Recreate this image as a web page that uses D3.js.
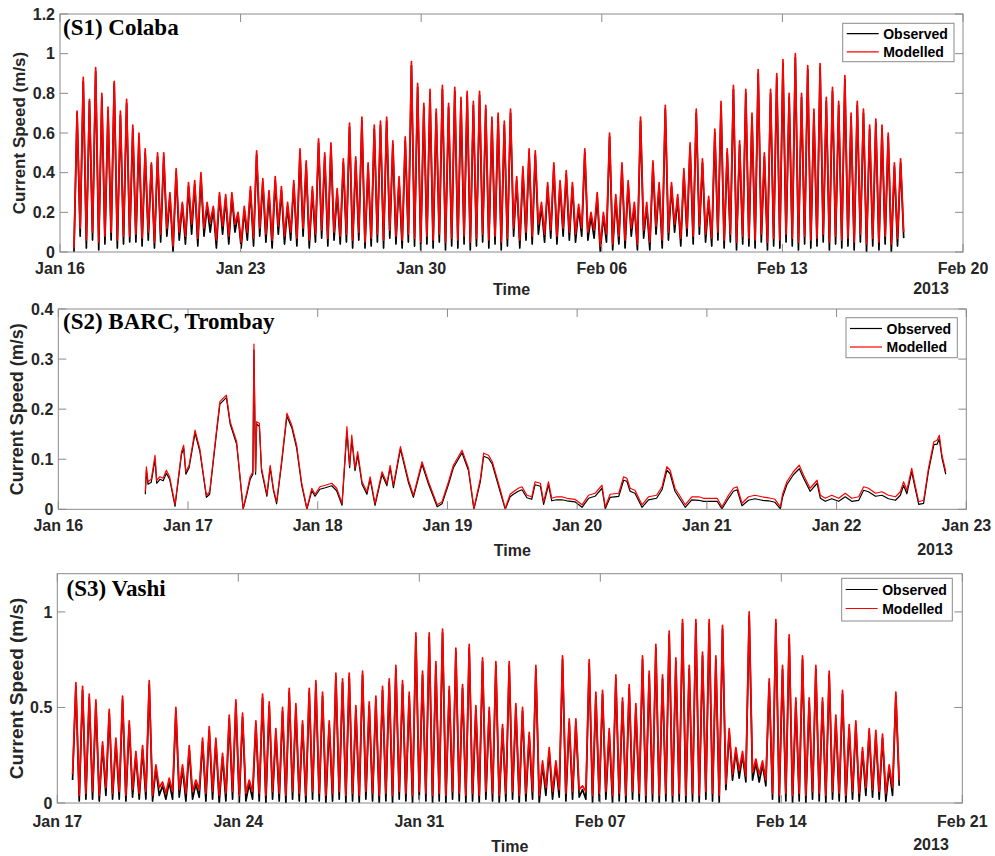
<!DOCTYPE html>
<meta charset="UTF-8">
<style>
body { margin: 0; background: #fff; }
text { font-family: "Liberation Sans", Arial, sans-serif; font-weight: bold; fill: #262626; }
.ptitle { font-family: "Liberation Serif", "Times New Roman", serif; fill: #000; font-size: 23px; }
.frame { fill: none; stroke: #8a8a8a; stroke-width: 1; }
.tick { stroke: #8a8a8a; stroke-width: 1; }
.obs { fill: none; stroke: #000; stroke-width: 1.7; stroke-linejoin: round; }
.mod { fill: none; stroke: #ff0000; stroke-width: 1.7; stroke-linejoin: round; }
.thin .obs, .thin .mod { stroke-width: 1.2; }
.legline { stroke-width: 1.2; }
</style>
<body>
<script src="https://d3js.org/d3.v7.min.js"></script>
<script>

// ---------------- data (m/s) ----------------

// S1 Colaba: successive tidal peaks and the troughs between them
var s1ModPeaks = [
  .71,.88,.77,.93,.80,.73,.86,.71,.77,.64,
  .60,.52,.45,.50,.50,.30,.42,.25,.35,.36,
  .40,.25,.23,.30,.29,.30,.20,.23,.33,.51,
  .37,.31,.38,.33,.25,.36,.52,.46,.33,.57,
  .50,.55,.32,.47,.65,.48,.68,.45,.64,.66,
  .68,.56,.38,.58,.96,.85,.75,.82,.72,.84,
  .75,.83,.78,.81,.76,.81,.74,.68,.70,.66,
  .72,.38,.43,.52,.51,.25,.35,.45,.36,.41,
  .35,.24,.52,.20,.30,.20,.60,.29,.45,.36,
  .25,.68,.25,.46,.35,.74,.35,.29,.42,.55,
  .72,.47,.28,.62,.76,.52,.84,.56,.82,.70,
  .92,.50,.82,.90,.97,.80,1.00,.80,.94,.72,
  .95,.78,.83,.76,.89,.70,.76,.72,.64,.67,
  .64,.60,.45,.47];
var s1ModTroughs = [
  .02,.12,.06,.10,.05,.08,.10,.06,.08,.08,
  .09,.07,.10,.05,.09,.12,.03,.10,.08,.14,
  .07,.12,.15,.06,.13,.08,.14,.05,.10,.07,
  .12,.09,.06,.13,.08,.10,.07,.12,.06,.09,
  .11,.07,.10,.08,.09,.06,.10,.05,.07,.09,
  .06,.11,.08,.06,.09,.07,.05,.08,.06,.09,
  .05,.07,.06,.08,.05,.07,.09,.06,.08,.05,
  .07,.12,.06,.10,.08,.14,.09,.11,.08,.12,
  .10,.09,.12,.10,.11,.03,.09,.04,.08,.06,
  .12,.04,.11,.05,.13,.06,.10,.14,.07,.12,
  .08,.13,.09,.07,.10,.06,.09,.05,.08,.07,
  .06,.09,.05,.07,.06,.09,.07,.05,.08,.06,
  .07,.09,.05,.08,.06,.07,.05,.09,.04,.07,
  .05,.08,.04,.07,.10];
var s1ObsPeaks = [
  .70,.86,.76,.91,.78,.71,.85,.69,.75,.62,
  .58,.50,.44,.48,.48,.28,.40,.24,.33,.34,
  .38,.23,.22,.28,.27,.28,.19,.21,.31,.49,
  .35,.29,.36,.31,.23,.34,.50,.44,.31,.55,
  .48,.53,.30,.45,.63,.46,.66,.43,.62,.64,
  .66,.54,.36,.56,.94,.83,.73,.80,.70,.82,
  .73,.81,.76,.79,.74,.79,.72,.66,.68,.64,
  .70,.36,.41,.50,.49,.23,.33,.43,.34,.39,
  .33,.22,.50,.18,.28,.18,.58,.27,.43,.34,
  .23,.66,.23,.44,.33,.72,.33,.27,.40,.53,
  .70,.45,.26,.60,.74,.50,.82,.54,.80,.68,
  .90,.48,.80,.88,.95,.78,.98,.78,.92,.70,
  .93,.76,.81,.74,.87,.68,.74,.70,.62,.65,
  .62,.58,.43,.45];
var s1ObsTroughs = [
  .00,.08,.02,.06,.01,.04,.06,.02,.04,.05,
  .05,.03,.06,.02,.05,.08,.00,.06,.04,.09,
  .03,.08,.10,.02,.09,.04,.10,.02,.06,.03,
  .08,.05,.02,.09,.04,.06,.03,.08,.02,.05,
  .07,.03,.06,.04,.05,.02,.06,.02,.03,.05,
  .02,.07,.04,.02,.05,.03,.01,.04,.02,.05,
  .01,.03,.02,.04,.01,.03,.05,.02,.04,.01,
  .03,.08,.02,.06,.04,.09,.05,.07,.04,.08,
  .06,.05,.08,.06,.07,.00,.05,.01,.04,.02,
  .08,.01,.07,.01,.09,.02,.06,.10,.03,.08,
  .04,.09,.05,.03,.06,.02,.05,.01,.04,.03,
  .02,.05,.01,.03,.02,.05,.03,.01,.04,.02,
  .03,.05,.01,.04,.02,.03,.01,.05,.00,.03,
  .01,.04,.00,.03,.07];
var s1Start = "2013-01-16 13:00", s1End = "2013-02-17 16:50";

// S2 BARC, Trombay: hours after 16 Jan 00:00
var s2Hours = [
  16.1,16.3,16.6,17.2,17.9,18.2,18.8,19.4,20.0,20.6,
  21.6,22.8,23.2,23.6,24.2,25.3,26.2,27.4,28.0,29.3,
  29.9,30.8,31.1,31.8,33.0,34.2,34.8,35.5,36.0,36.2,
  36.5,36.7,37.2,37.6,38.6,39.2,39.8,40.4,41.3,42.3,
  43.2,44.1,45.0,46.0,46.9,47.5,48.4,49.4,50.6,51.5,
  52.5,53.4,53.9,54.3,54.9,55.4,56.2,57.1,57.7,58.6,
  59.9,60.8,61.4,62.0,63.3,64.8,65.7,67.3,68.5,70.1,
  71.0,72.2,73.1,74.7,75.9,76.9,78.1,78.7,79.6,80.3,
  81.7,82.7,83.6,84.2,85.1,85.8,86.7,87.6,88.2,89.2,
  89.8,90.7,91.3,92.2,93.2,94.1,95.6,96.9,98.1,99.3,
  100.6,101.2,102.1,103.7,104.6,105.2,105.8,106.7,108.0,109.2,
  110.7,111.7,112.6,113.2,114.1,115.1,116.0,117.2,118.5,119.4,
  120.6,121.9,122.8,124.0,124.9,125.6,126.5,127.7,128.9,130.2,
  131.4,132.6,133.6,134.0,134.8,136.0,137.1,137.9,139.1,140.4,
  141.0,141.9,143.1,144.4,145.6,146.8,148.1,149.0,149.9,151.2,
  152.4,153.6,154.9,155.8,156.4,157.0,157.9,158.4,159.2,160.1,
  161.0,162.0,162.6,163.0,163.5,164.2];
var s2Mod = [
  .035,.085,.055,.060,.108,.058,.065,.062,.078,.065,
  .010,.115,.128,.075,.088,.158,.120,.028,.035,.160,
  .215,.225,.228,.175,.135,.002,.030,.065,.075,.330,
  .075,.175,.172,.082,.030,.088,.042,.015,.095,.192,
  .168,.128,.055,.002,.042,.030,.045,.048,.052,.042,
  .012,.165,.088,.148,.082,.115,.055,.035,.065,.012,
  .075,.052,.088,.048,.125,.058,.028,.095,.055,.009,
  .015,.055,.088,.118,.082,.002,.062,.112,.108,.095,
  .042,.002,.030,.035,.042,.045,.028,.025,.055,.052,
  .015,.055,.022,.025,.025,.022,.020,.009,.028,.032,
  .048,.005,.030,.032,.065,.062,.042,.038,.009,.025,
  .028,.045,.085,.078,.042,.025,.009,.025,.025,.022,
  .022,.022,.005,.028,.042,.045,.012,.025,.028,.025,
  .023,.020,.005,.030,.055,.075,.088,.068,.042,.058,
  .028,.022,.028,.022,.032,.022,.025,.045,.042,.032,
  .035,.028,.025,.035,.055,.038,.082,.055,.015,.018,
  .082,.135,.138,.148,.108,.075];
var s2Obs = [
  .030,.078,.050,.054,.100,.052,.060,.057,.072,.060,
  .006,.110,.122,.070,.083,.152,.115,.024,.030,.155,
  .210,.220,.223,.170,.130,.000,.026,.060,.070,.318,
  .070,.170,.166,.077,.026,.083,.038,.011,.090,.186,
  .163,.122,.050,.000,.037,.026,.040,.043,.047,.037,
  .008,.155,.083,.140,.077,.108,.050,.030,.060,.008,
  .070,.047,.083,.043,.120,.053,.024,.090,.050,.005,
  .011,.050,.083,.113,.077,.000,.056,.106,.102,.090,
  .037,.000,.025,.030,.036,.039,.023,.020,.049,.046,
  .010,.049,.017,.019,.019,.017,.015,.004,.022,.026,
  .042,.001,.024,.026,.058,.056,.036,.032,.004,.019,
  .022,.039,.078,.071,.036,.019,.004,.019,.018,.016,
  .016,.016,.001,.022,.036,.039,.007,.018,.021,.018,
  .017,.014,.001,.024,.049,.069,.081,.062,.036,.052,
  .022,.016,.021,.016,.025,.016,.018,.038,.035,.026,
  .028,.021,.018,.028,.048,.031,.075,.049,.010,.012,
  .076,.129,.130,.141,.102,.070];
var s2Origin = "2013-01-16 00:00";

// S3 Vashi
var s3ModPeaks = [
  .63,.61,.57,.54,.32,.49,.34,.56,.43,.27,
  .30,.64,.20,.11,.13,.50,.20,.30,.12,.34,
  .40,.34,.26,.46,.54,.47,.12,.43,.57,.53,
  .39,.50,.60,.52,.43,.60,.64,.58,.43,.68,
  .65,.68,.51,.69,.53,.56,.61,.65,.72,.64,
  .58,.89,.69,.89,.74,.91,.61,.81,.62,.83,
  .51,.76,.50,.74,.41,.74,.52,.50,.37,.72,
  .22,.29,.22,.77,.44,.44,.09,.75,.58,.59,
  .39,.67,.55,.62,.52,.77,.69,.83,.67,.90,
  .76,.96,.72,.96,.79,.96,.77,.93,.39,.29,
  .27,1.00,.23,.22,.65,.96,.72,.88,.55,.77,
  .55,.72,.55,.69,.46,.59,.41,.43,.29,.39,
  .38,.36,.20,.58];
var s3ModTroughs = [
  .15,.04,.05,.06,.04,.08,.05,.06,.04,.07,
  .05,.06,.04,.08,.05,.06,.07,.05,.06,.07,
  .05,.06,.04,.05,.06,.04,.05,.06,.05,.04,
  .06,.05,.04,.06,.05,.04,.06,.05,.04,.05,
  .06,.04,.05,.04,.06,.05,.04,.05,.04,.06,
  .05,.04,.06,.05,.04,.05,.04,.06,.05,.04,
  .05,.04,.06,.05,.04,.05,.06,.04,.05,.06,
  .04,.08,.06,.07,.05,.06,.07,.06,.04,.05,
  .06,.04,.05,.04,.06,.05,.04,.05,.04,.05,
  .04,.05,.04,.05,.04,.06,.05,.04,.10,.15,
  .17,.14,.16,.15,.12,.05,.04,.05,.04,.05,
  .04,.06,.05,.04,.06,.05,.04,.06,.05,.08,
  .07,.06,.05,.08,.12];
var s3ObsPeaks = [
  .61,.59,.55,.52,.30,.47,.32,.54,.41,.25,
  .28,.62,.18,.09,.11,.48,.18,.28,.10,.32,
  .38,.32,.24,.44,.52,.45,.10,.41,.55,.51,
  .37,.48,.58,.50,.41,.58,.62,.56,.41,.66,
  .63,.66,.49,.67,.51,.54,.59,.63,.70,.62,
  .56,.87,.67,.87,.72,.89,.59,.79,.60,.81,
  .49,.74,.48,.72,.39,.72,.50,.48,.35,.70,
  .20,.27,.20,.75,.42,.42,.07,.73,.56,.57,
  .37,.65,.53,.60,.50,.75,.67,.81,.65,.88,
  .74,.94,.70,.94,.77,.94,.75,.91,.37,.27,
  .25,.98,.21,.20,.63,.94,.70,.86,.53,.75,
  .53,.70,.53,.67,.44,.57,.39,.41,.27,.37,
  .36,.34,.18,.56];
var s3ObsTroughs = [
  .12,.01,.02,.02,.01,.04,.02,.02,.01,.03,
  .02,.02,.01,.04,.02,.02,.03,.01,.02,.03,
  .01,.02,.00,.01,.02,.00,.01,.02,.01,.00,
  .02,.01,.00,.02,.01,.00,.02,.01,.00,.01,
  .02,.00,.01,.00,.02,.01,.00,.01,.00,.02,
  .01,.00,.02,.01,.00,.01,.00,.02,.01,.00,
  .01,.00,.02,.01,.00,.01,.02,.00,.01,.02,
  .00,.04,.02,.03,.01,.02,.03,.02,.00,.01,
  .02,.00,.01,.00,.02,.01,.00,.01,.00,.01,
  .00,.01,.00,.01,.00,.02,.01,.00,.07,.12,
  .13,.11,.12,.11,.09,.02,.00,.01,.00,.01,
  .00,.02,.01,.00,.02,.01,.00,.02,.01,.04,
  .03,.02,.01,.04,.09];
var s3Start = "2013-01-17 14:10", s3End = "2013-02-18 13:25";

// axis ticks
var s1XTicks = ["2013-01-16", "2013-01-23", "2013-01-30", "2013-02-06", "2013-02-13", "2013-02-20"];
var s2XTicks = ["2013-01-16", "2013-01-17", "2013-01-18", "2013-01-19", "2013-01-20", "2013-01-21", "2013-01-22", "2013-01-23"];
var s3XTicks = ["2013-01-17", "2013-01-24", "2013-01-31", "2013-02-07", "2013-02-14", "2013-02-21"];
var s1YTicks = [0, 0.2, 0.4, 0.6, 0.8, 1, 1.2];
var s2YTicks = [0, 0.1, 0.2, 0.3, 0.4];
var s3YTicks = [0, 0.5, 1];

var seriesNames = ["Observed", "Modelled"];

// ---------------- helpers ----------------

var parseT = d3.timeParse("%Y-%m-%d %H:%M");
var parseD = d3.timeParse("%Y-%m-%d");
var fmtTick = d3.timeFormat("%b %d");

// alternate trough / peak values, evenly spaced in time
function tideSeries(troughs, peaks, start, end) {
  var vals = [];
  troughs.forEach(function(v, i) {
    vals.push(v);
    if (i < peaks.length) vals.push(peaks[i]);
  });
  var t0 = parseT(start), t1 = parseT(end);
  var dt = (t1 - t0) / (vals.length - 1);
  return vals.map(function(v, i) { return {t: new Date(+t0 + i * dt), v: v}; });
}

function hourSeries(hours, vals, origin) {
  var t0 = parseT(origin);
  return vals.map(function(v, i) { return {t: new Date(+t0 + hours[i] * 3600e3), v: v}; });
}

var panels = [
  {id: "p1", title: "(S1) Colaba", titleX: 63, titleY: 34.5,
   left: 60, right: 963, top: 14, bottom: 252, yMax: 1.2,
   xTicks: s1XTicks, yTicks: s1YTicks, thin: false,
   obs: tideSeries(s1ObsTroughs, s1ObsPeaks, s1Start, s1End),
   mod: tideSeries(s1ModTroughs, s1ModPeaks, s1Start, s1End),
   xLabY: 273.5, timeY: 295, yearX: 931, yearY: 293.5,
   yTitleX: 25, yTitleSize: 17,
   leg: {x: 842.7, y: 23.3, w: 111.3, h: 38.4, r1: 33.6, r2: 51.8}},
  {id: "p2", title: "(S2) BARC, Trombay", titleX: 63, titleY: 328.5,
   left: 58.3, right: 966.3, top: 309, bottom: 509.3, yMax: 0.4,
   xTicks: s2XTicks, yTicks: s2YTicks, thin: true,
   obs: hourSeries(s2Hours, s2Obs, s2Origin),
   mod: hourSeries(s2Hours, s2Mod, s2Origin),
   xLabY: 530.5, timeY: 556, yearX: 935, yearY: 554.5,
   yTitleX: 23, yTitleSize: 18,
   leg: {x: 846, y: 317.7, w: 111.3, h: 40, r1: 328.5, r2: 347}},
  {id: "p3", title: "(S3) Vashi", titleX: 66.5, titleY: 596,
   left: 57.3, right: 962.3, top: 573.7, bottom: 803, yMax: 1.2,
   xTicks: s3XTicks, yTicks: s3YTicks, thin: false,
   obs: tideSeries(s3ObsTroughs, s3ObsPeaks, s3Start, s3End),
   mod: tideSeries(s3ModTroughs, s3ModPeaks, s3Start, s3End),
   xLabY: 827, timeY: 852, yearX: 931, yearY: 850,
   yTitleX: 23, yTitleSize: 19,
   leg: {x: 841.7, y: 578.3, w: 110.6, h: 42.7, r1: 589.5, r2: 608.5}}
];

var svg = d3.select("body").append("svg")
    .attr("width", 995)
    .attr("height", 856);

panels.forEach(drawPanel);

function drawPanel(p) {
  var xDates = p.xTicks.map(parseD);
  var x = d3.scaleTime()
      .domain([xDates[0], xDates[xDates.length - 1]])
      .range([p.left, p.right]);
  var y = d3.scaleLinear()
      .domain([0, p.yMax])
      .range([p.bottom, p.top]);

  var g = svg.append("g");

  g.append("clipPath").attr("id", "clip-" + p.id)
    .append("rect")
      .attr("x", p.left).attr("y", p.top)
      .attr("width", p.right - p.left).attr("height", p.bottom - p.top);

  var line = d3.line()
      .x(function(d) { return x(d.t); })
      .y(function(d) { return y(d.v); });

  var plot = g.append("g")
      .attr("clip-path", "url(#clip-" + p.id + ")")
      .classed("thin", p.thin);
  plot.append("path").attr("class", "obs").attr("d", line(p.obs));
  plot.append("path").attr("class", "mod").attr("d", line(p.mod));

  // frame
  g.append("rect").attr("class", "frame")
      .attr("x", p.left).attr("y", p.top)
      .attr("width", p.right - p.left).attr("height", p.bottom - p.top);

  var tl = 8;
  // x ticks (inward, bottom and top)
  xDates.forEach(function(d) {
    var xx = x(d);
    g.append("line").attr("class", "tick")
        .attr("x1", xx).attr("x2", xx).attr("y1", p.bottom).attr("y2", p.bottom - tl);
    g.append("line").attr("class", "tick")
        .attr("x1", xx).attr("x2", xx).attr("y1", p.top).attr("y2", p.top + tl);
    g.append("text")
        .attr("x", xx).attr("y", p.xLabY)
        .attr("text-anchor", "middle")
        .style("font-size", "16px")
        .text(fmtTick(d));
  });

  // y ticks (inward, left and right)
  p.yTicks.forEach(function(v) {
    var yy = y(v);
    g.append("line").attr("class", "tick")
        .attr("x1", p.left).attr("x2", p.left + tl).attr("y1", yy).attr("y2", yy);
    g.append("line").attr("class", "tick")
        .attr("x1", p.right).attr("x2", p.right - tl).attr("y1", yy).attr("y2", yy);
    g.append("text")
        .attr("x", p.left - 5).attr("y", yy)
        .attr("dy", "0.36em")
        .attr("text-anchor", "end")
        .style("font-size", "16px")
        .text(String(v));
  });

  // axis titles
  g.append("text")
      .attr("x", (p.left + p.right) / 2).attr("y", p.timeY)
      .attr("text-anchor", "middle")
      .style("font-size", "16px")
      .text("Time");
  g.append("text")
      .attr("x", p.yearX).attr("y", p.yearY)
      .attr("text-anchor", "middle")
      .style("font-size", "16px")
      .text("2013");
  g.append("text")
      .attr("transform", "translate(" + p.yTitleX + "," + ((p.top + p.bottom) / 2) + ") rotate(-90)")
      .attr("text-anchor", "middle")
      .style("font-size", p.yTitleSize + "px")
      .text("Current Speed (m/s)");

  // panel title
  g.append("text").attr("class", "ptitle")
      .attr("x", p.titleX).attr("y", p.titleY)
      .text(p.title);

  // legend
  var L = p.leg;
  g.append("rect")
      .attr("x", L.x).attr("y", L.y).attr("width", L.w).attr("height", L.h)
      .style("fill", "#fff").style("stroke", "#8a8a8a").style("stroke-width", 1);
  [["obs", L.r1, seriesNames[0]], ["mod", L.r2, seriesNames[1]]].forEach(function(r) {
    g.append("line").attr("class", r[0] + " legline")
        .attr("x1", L.x + 4).attr("x2", L.x + 36)
        .attr("y1", r[1]).attr("y2", r[1]);
    g.append("text")
        .attr("x", L.x + 40.5).attr("y", r[1])
        .attr("dy", "0.36em")
        .style("font-size", "14px")
        .style("fill", "#000")
        .text(r[2]);
  });
}
</script>
</body>
